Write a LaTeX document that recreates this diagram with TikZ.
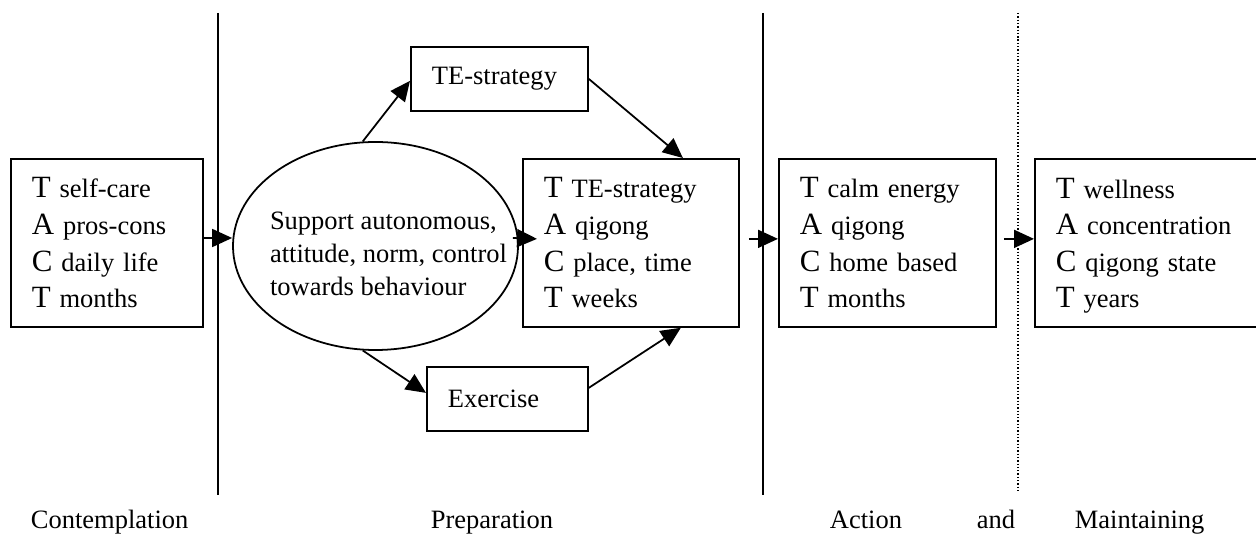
\documentclass[tikz,border=0pt]{standalone}
\usepackage{fontspec}
\setmainfont{Liberation Serif}
\usetikzlibrary{arrows.meta,shapes.geometric,calc}
\def\px{0.4528pt}
\newcommand\capL[1]{{\fontsize{14}{16.6}\selectfont #1}}
\begin{document}
\begin{tikzpicture}[x=0.4528pt,y=-0.4528pt,line width=0.8pt,
  stagebox/.style={draw, anchor=north west, inner xsep=21*\px, inner ysep=0pt,
    align=left, minimum height=168*\px, font=\fontsize{12}{16.6}\selectfont},
  smallbox/.style={draw, anchor=north west, inner xsep=21*\px, inner ysep=0pt,
    align=left, font=\fontsize{12}{14}\selectfont},
  ellnode/.style={draw, ellipse, inner sep=0pt, minimum width=285*\px, minimum height=208*\px},
  elltext/.style={align=left, inner sep=0pt, font=\fontsize{12}{15}\selectfont},
  stagelabel/.style={anchor=base west, inner sep=0pt, font=\fontsize{12}{14}\selectfont},
  arr/.style={-{Triangle[length=20*\px,width=18*\px]}},
  divider/.style={line width=0.8pt},
  dotdivider/.style={line width=0.6pt, dash pattern=on 0.6pt off 0.9pt}
]
\useasboundingbox (0,0) rectangle (1256,534);

% dividers
\coordinate (d1t) at (218,13); \coordinate (d1b) at (218,495);
\coordinate (d2t) at (763,13); \coordinate (d2b) at (763,495);
\coordinate (d3t) at (1018,13); \coordinate (d3b) at (1018,493);
\draw[divider] (d1t) -- (d1b);
\draw[divider] (d2t) -- (d2b);
\draw[dotdivider] (d3t) -- (d3b);

% stage boxes
\node[stagebox, text width=150*\px] (contemp) at (10,158)
  {\capL{T} self-care\\\capL{A} pros-cons\\\capL{C} daily life\\\capL{T} months};
\node[stagebox, text width=174*\px] (prep) at (522,158)
  {\capL{T} TE-strategy\\\capL{A} qigong\\\capL{C} place, time\\\capL{T} weeks};
\node[stagebox, text width=175*\px] (action) at (778,158)
  {\capL{T} calm energy\\\capL{A} qigong\\\capL{C} home based\\\capL{T} months};
\node[stagebox, text width=186*\px] (maint) at (1034,158)
  {\capL{T} wellness\\\capL{A} concentration\\\capL{C} qigong state\\\capL{T} \smash{years}};

% ellipse
\node[ellnode] (ell) at (375.5,246) {};
\node[elltext] (elltxt) at (388.5,254)
  {Support autonomous,\\attitude, norm, control\\towards behaviour};

% small boxes
\node[smallbox, text width=135*\px, minimum height=64*\px] (te) at (410,46) {TE-strategy};
\node[smallbox, text width=119*\px, minimum height=64*\px] (ex) at (426,366) {Exercise};

% connectors
\draw[arr] (contemp.east |- 0,238) -- (ell.west |- 0,238);
\draw[arr] ($(ell.east)+(-6,-8)$) -- ($(prep.west)+(15,-4)$);
\draw[arr] ($(prep.east)+(9,-4)$) -- ($(action.west)+(0,-4)$);
\draw[arr] ($(action.east)+(7,-4)$) -- ($(maint.west)+(0,-4)$);
\draw[arr] (ell.97) -- ($(te.west)+(0,2)$);
\draw[arr] (te.east) -- ($(prep.north)+(52,0)$);
\draw[arr] (ell.263) -- ($(ex.west)+(0,-6)$);
\draw[arr] ($(ex.east)+(0,-11)$) -- ($(prep.south)+(50,0)$);

% stage labels
\node[stagelabel] (lcont) at (30,529) {Contemplation};
\node[stagelabel] (lprep) at (430,529) {Preparation};
\node[stagelabel] (lact) at (829,529) {Action};
\node[stagelabel] (land) at (976,529) {and};
\node[stagelabel] (lmaint) at (1074,529) {Maintaining};
\end{tikzpicture}
\end{document}
